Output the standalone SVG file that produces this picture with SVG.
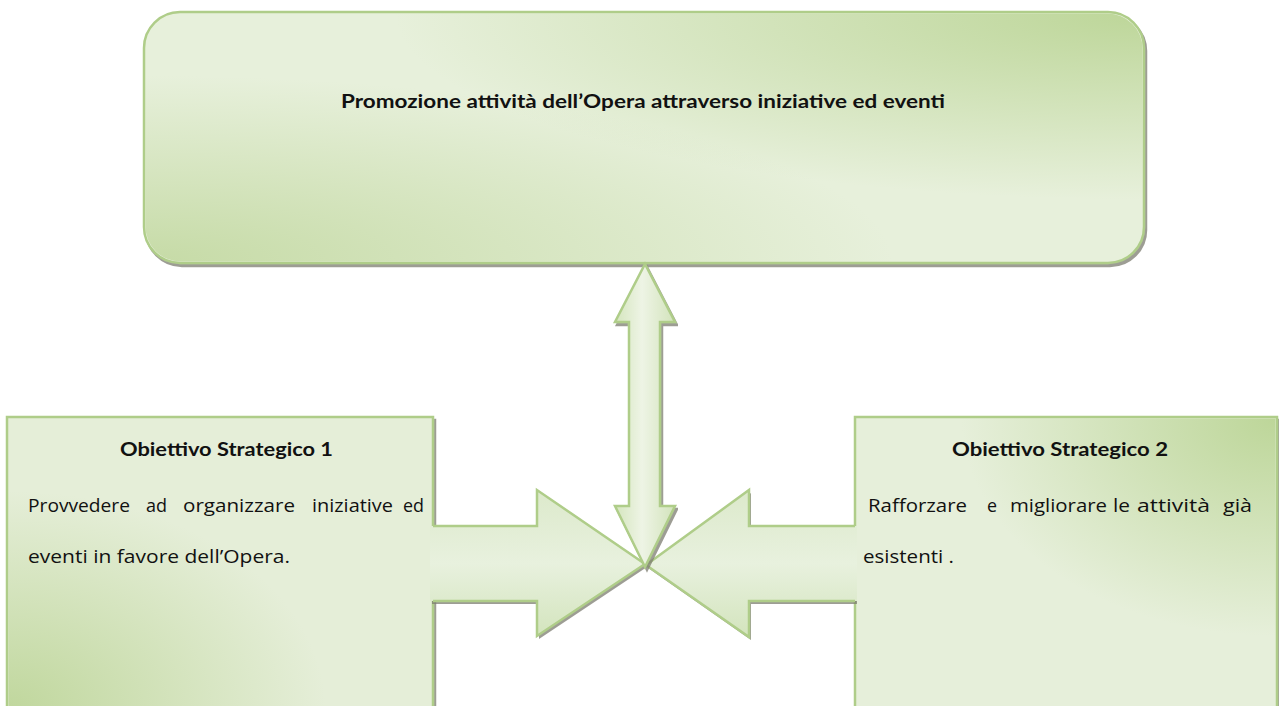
<svg xmlns="http://www.w3.org/2000/svg" width="1279" height="706" viewBox="0 0 1279 706">
  <style>
    .edge { stroke: #afcd89; stroke-width: 2.5; stroke-linejoin: miter; }
    .title { font-family: Lato, "Liberation Sans", sans-serif; font-weight: bold; font-size: 19px; fill: #111; }
    .body { font-family: "Open Sans", "Liberation Sans", sans-serif; font-size: 19px; fill: #111; }
  </style>
  <defs>
    <filter id="shadow" x="-5%" y="-5%" width="110%" height="115%">
      <feDropShadow dx="2" dy="3" stdDeviation="0.7" flood-color="#7d7d70" flood-opacity="0.75"/>
    </filter>
    <filter id="shadowR" filterUnits="userSpaceOnUse" x="600" y="470" width="257" height="190">
      <feDropShadow dx="2" dy="3" stdDeviation="0.7" flood-color="#7d7d70" flood-opacity="0.75"/>
    </filter>
    <radialGradient id="darkTR" cx="1" cy="0" r="0.75">
      <stop offset="0" stop-color="#bdd699" stop-opacity="1"/>
      <stop offset="1" stop-color="#bdd699" stop-opacity="0"/>
    </radialGradient>
    <radialGradient id="darkBL" cx="0" cy="1" r="0.75">
      <stop offset="0" stop-color="#c0d79d" stop-opacity="1"/>
      <stop offset="1" stop-color="#c0d79d" stop-opacity="0"/>
    </radialGradient>
    <linearGradient id="shaftV" x1="0" y1="0" x2="1" y2="0">
      <stop offset="0" stop-color="#d4e5bd"/>
      <stop offset="0.45" stop-color="#eef4e5"/>
      <stop offset="1" stop-color="#d2e3bb"/>
    </linearGradient>
    <linearGradient id="shaftH" gradientUnits="userSpaceOnUse" x1="0" y1="490" x2="0" y2="637">
      <stop offset="0" stop-color="#dce9cb"/>
      <stop offset="0.5" stop-color="#e8f1de"/>
      <stop offset="1" stop-color="#d3e4bd"/>
    </linearGradient>
  </defs>

  <!-- Top node -->
  <g id="node-top">
    <rect x="144" y="12" width="1000" height="251" rx="36" ry="36" fill="#e7f0db" class="edge" filter="url(#shadow)"/>
    <rect x="145.5" y="13.5" width="997" height="248" rx="35" ry="35" fill="url(#darkTR)"/>
    <rect x="145.5" y="13.5" width="997" height="248" rx="35" ry="35" fill="url(#darkBL)" opacity="0.85"/>
    <text class="title" x="341" y="108" textLength="604" lengthAdjust="spacingAndGlyphs">Promozione attività dell’Opera attraverso iniziative ed eventi</text>
  </g>

  <!-- Left node -->
  <g id="node-obj1">
    <rect x="7" y="417" width="426" height="300" fill="#e5eed8" class="edge" filter="url(#shadow)"/>
    <rect x="8.5" y="418.5" width="423" height="290" fill="url(#darkBL)"/>
    <text class="title" x="120" y="456" textLength="213" lengthAdjust="spacingAndGlyphs">Obiettivo Strategico 1</text>
    <text class="body" y="512"><tspan x="28" textLength="102" lengthAdjust="spacingAndGlyphs">Provvedere</tspan> <tspan x="146" textLength="21" lengthAdjust="spacingAndGlyphs">ad</tspan> <tspan x="183" textLength="112" lengthAdjust="spacingAndGlyphs">organizzare</tspan> <tspan x="312" textLength="81" lengthAdjust="spacingAndGlyphs">iniziative</tspan> <tspan x="403" textLength="21" lengthAdjust="spacingAndGlyphs">ed</tspan></text>
    <text class="body" x="28" y="563" textLength="262" lengthAdjust="spacingAndGlyphs">eventi in favore dell’Opera.</text>
  </g>

  <!-- Right node -->
  <g id="node-obj2">
    <rect x="855" y="417" width="422" height="300" fill="#e6efda" class="edge" filter="url(#shadow)"/>
    <rect x="856.5" y="418.5" width="419" height="290" fill="url(#darkTR)"/>
    <text class="title" x="952" y="456" textLength="216" lengthAdjust="spacingAndGlyphs">Obiettivo Strategico 2</text>
    <text class="body" y="512"><tspan x="868" textLength="99" lengthAdjust="spacingAndGlyphs">Rafforzare</tspan>  <tspan x="987" textLength="10" lengthAdjust="spacingAndGlyphs">e</tspan> <tspan x="1010" textLength="97" lengthAdjust="spacingAndGlyphs">migliorare</tspan> <tspan x="1113" textLength="17" lengthAdjust="spacingAndGlyphs">le</tspan> <tspan x="1137" textLength="73" lengthAdjust="spacingAndGlyphs">attività</tspan> <tspan x="1223" textLength="29" lengthAdjust="spacingAndGlyphs">già</tspan></text>
    <text class="body" x="863" y="563" textLength="91" lengthAdjust="spacingAndGlyphs">esistenti .</text>
  </g>

  <!-- Connectors (block arrows) -->
  <g id="connectors">
    <!-- from Obiettivo 1 to centre -->
    <g id="arrow-left">
      <polygon points="430,526 537,526 537,490 645,564 537,636 537,601 430,601" fill="url(#shaftH)" filter="url(#shadow)"/>
      <path d="M433,526 H537 V490 L645,564 L537,636 V601 H433" fill="none" class="edge"/>
    </g>
    <!-- from Obiettivo 2 to centre -->
    <g id="arrow-right">
      <polygon points="857,526 749,526 749,490 646,565 749,637 749,601 857,601" fill="url(#shaftH)" filter="url(#shadowR)"/>
      <path d="M855,526 H749 V490 L646,565 L749,637 V601 H855" fill="none" class="edge"/>
    </g>
    <!-- double arrow between top node and centre -->
    <g id="arrow-vertical">
      <polygon points="645,264 675,322 660,322 660,506 675,506 645,567 615,506 629,506 629,322 615,322" fill="url(#shaftV)" class="edge" filter="url(#shadow)"/>
    </g>
  </g>
</svg>
